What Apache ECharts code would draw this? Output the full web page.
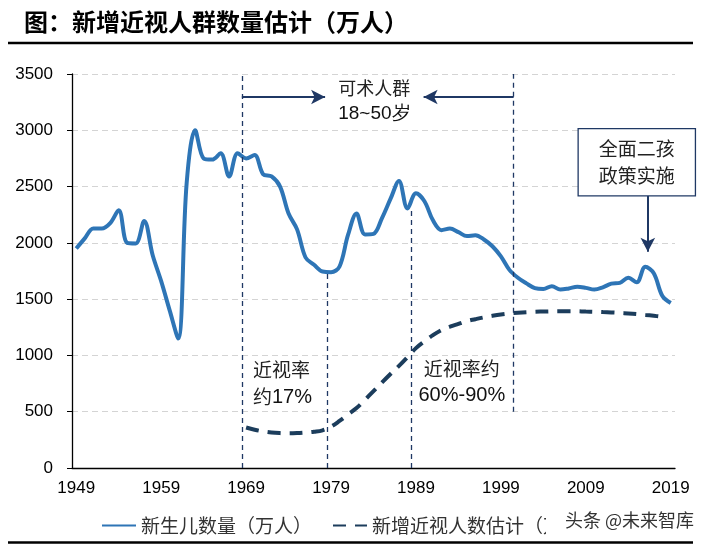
<!DOCTYPE html>
<html>
<head>
<meta charset="utf-8">
<script src="https://cdn.jsdelivr.net/npm/echarts@6/dist/echarts.min.js"></script>
<style>
  html, body { margin: 0; padding: 0; background: #fff; }
  #chart { width: 707px; height: 544px; }
</style>
</head>
<body>
<div id="chart"></div>
<script>
// 年份（类目轴）
const firstYear = 1949
const lastYear = 2019
const years = []
for (let y = firstYear; y <= lastYear; y++) years.push(String(y))

// 新生儿数量（万人），1949-2019
const births = [
  1950, 2040, 2127, 2127, 2175, 2290, 2000, 1995, 2195, 1890,
  1660, 1400, 1150, 2530, 3000, 2750, 2740, 2795, 2590, 2795,
  2750, 2780, 2610, 2590, 2500, 2260, 2120, 1870, 1805, 1745,
  1740, 1790, 2070, 2260, 2075, 2080, 2220, 2390, 2550, 2305,
  2440, 2370, 2200, 2113, 2127, 2095, 2060, 2068, 2030, 1970,
  1880, 1760, 1690, 1640, 1598, 1590, 1615, 1585, 1595, 1610,
  1600, 1585, 1605, 1638, 1645, 1690, 1650, 1787, 1730, 1530,
  1465
]

// 新增近视人数估计（万人），1969-2018
const myopiaStart = 1969
const myopia = [
  360, 340, 325, 315, 310, 308, 310, 315, 322, 335,
  368, 418, 475, 532, 606, 683, 760, 835, 907, 985,
  1065, 1125, 1180, 1225, 1255, 1280, 1305, 1322, 1338, 1352,
  1364, 1373, 1379, 1384, 1388, 1390, 1392, 1393, 1393, 1392,
  1390, 1388, 1385, 1382, 1378, 1373, 1367, 1360, 1352, 1343
]

// 注释位置（年份, 数值）
const bracketYears = [1969, 2001]
const bracketLevel = 3296
const arrowTips = [1978.8, 1990.4]
const markYears = [1969, 1979, 1989, 2001]
const markTops = [3500, 1737, 2305, 3500]
const markBottoms = [0, 0, 0, 500]

const myopiaSeries = years.map((y) => {
  const i = Number(y) - myopiaStart
  return i >= 0 && i < myopia.length ? myopia[i] : null
})

const navy = '#1F3864'
const cjk = '"Noto Sans CJK SC", sans-serif'
const latin = '"Liberation Sans", Arial, sans-serif'

const chart = echarts.init(document.getElementById('chart'))

const vLines = markYears.map((yr, i) => [
  { coord: [yr, markBottoms[i]] },
  { coord: [yr, markTops[i]] }
])

const option = {
  backgroundColor: '#fff',
  animation: false,
  graphic: [
    {
      type: 'text', left: 24, top: 10,
      style: { text: '图：新增近视人群数量估计（万人）', font: 'bold 24px ' + cjk, fill: '#000' }
    },
    {
      type: 'line', shape: { x1: 8, y1: 43, x2: 693, y2: 43 },
      style: { stroke: '#000', lineWidth: 2.5 }
    },
    {
      type: 'line', shape: { x1: 8, y1: 542.5, x2: 693, y2: 542.5 },
      style: { stroke: '#000', lineWidth: 2.5 }
    },
    // 水印
    {
      type: 'rect', z: 99,
      shape: { x: 546, y: 510, width: 158, height: 28 },
      style: { fill: '#fff' }
    },
    {
      type: 'text', left: 565, top: 511, z: 100,
      style: { text: '头条 @未来智库', font: '18px ' + cjk, fill: '#333' }
    }
  ],
  grid: { left: 72, right: 32, top: 74, bottom: 76 },
  legend: {
    data: ['新生儿数量（万人）', '新增近视人数估计（万人）'],
    left: 96, top: 511, z: 2,
    itemWidth: 34, itemHeight: 10, itemGap: 20,
    itemStyle: { opacity: 0 },
    textStyle: { fontFamily: cjk, fontSize: 19, color: '#333' }
  },
  xAxis: [
    {
      type: 'category',
      data: years,
      boundaryGap: true,
      axisLine: { lineStyle: { color: '#000', width: 1.3 } },
      axisTick: { interval: 9, length: 5, lineStyle: { color: '#000' } },
      axisLabel: { interval: 9, fontFamily: latin, fontSize: 17, color: '#000', margin: 12 },
      splitLine: { show: false }
    },
    {
      type: 'value', min: firstYear, max: lastYear + 1, show: false
    }
  ],
  yAxis: {
    type: 'value', min: 0, max: 3500, interval: 500,
    axisLine: { show: true, lineStyle: { color: '#000', width: 1.3 } },
    axisTick: { show: true, length: 5, lineStyle: { color: '#000' } },
    axisLabel: {
      fontFamily: latin, fontSize: 17, color: '#000', margin: 19,
      formatter: (v) => String(v)
    },
    splitLine: { show: true, lineStyle: { color: '#d4d4d4', type: [6, 4], width: 1 } }
  },
  series: [
    {
      name: '新生儿数量（万人）',
      type: 'line',
      data: births,
      smooth: 0.35,
      symbol: 'none',
      lineStyle: { color: '#2E75B6', width: 4 },
      itemStyle: { color: '#2E75B6' },
      z: 3
    },
    {
      name: '新增近视人数估计（万人）',
      type: 'line',
      data: myopiaSeries,
      smooth: 0.4,
      symbol: 'none',
      lineStyle: { color: '#1C3D5C', width: 4, type: [13, 9] },
      itemStyle: { color: '#1C3D5C' },
      z: 3
    },
    {
      type: 'line',
      xAxisIndex: 1,
      data: [],
      silent: true,
      markLine: {
        silent: true,
        symbol: 'none',
        label: { show: false },
        lineStyle: { color: navy, width: 1.3, type: [5, 4] },
        data: vLines
      }
    },
    {
      type: 'line',
      xAxisIndex: 1,
      data: [],
      silent: true,
      markLine: {
        silent: true,
        symbol: ['none', 'arrow'],
        symbolSize: [11, 14],
        label: { show: false },
        lineStyle: { color: navy, width: 2, type: 'solid' },
        data: [
          [{ coord: [bracketYears[0], bracketLevel] }, { coord: [arrowTips[0], bracketLevel] }],
          [{ coord: [bracketYears[1], bracketLevel] }, { coord: [arrowTips[1], bracketLevel] }],
          [{ coord: [2016.8, 2423] }, { coord: [2016.8, 1920] }]
        ]
      },
      markPoint: {
        silent: true,
        symbol: 'rect',
        symbolSize: 0,
        data: [
          {
            coord: [1984.6, 3262],
            label: {
              show: true, position: [0, 0], align: 'center', verticalAlign: 'middle',
              formatter: '{c|可术人群}\n{n|18~50岁}',
              rich: {
                c: { fontFamily: cjk, fontSize: 18, color: '#222', lineHeight: 25 },
                n: { fontFamily: latin, fontSize: 19, color: '#111', lineHeight: 25 }
              }
            }
          },
          {
            coord: [1970.3, 750],
            label: {
              show: true, position: [0, 0], align: 'left', verticalAlign: 'middle',
              formatter: '{c|近视率}\n{c|约}{n|17%}',
              rich: {
                c: { fontFamily: cjk, fontSize: 19, color: '#222', lineHeight: 27 },
                n: { fontFamily: latin, fontSize: 20, color: '#111', lineHeight: 27 }
              }
            }
          },
          {
            coord: [1994.9, 765],
            label: {
              show: true, position: [0, 0], align: 'center', verticalAlign: 'middle',
              formatter: '{c|近视率约}\n{n|60%-90%}',
              rich: {
                c: { fontFamily: cjk, fontSize: 19, color: '#222', lineHeight: 27 },
                n: { fontFamily: latin, fontSize: 20, color: '#111', lineHeight: 27 }
              }
            }
          },
          {
            coord: [2015.5, 2716],
            label: {
              show: true, position: [0, 0], align: 'center', verticalAlign: 'middle',
              formatter: '全面二孩\n政策实施',
              fontFamily: cjk, fontSize: 19, color: '#222', lineHeight: 27,
              backgroundColor: '#fff',
              borderColor: navy, borderWidth: 1.3,
              padding: [6, 20, 6, 20]
            }
          }
        ]
      }
    }
  ]
}

chart.setOption(option)
</script>
</body>
</html>
